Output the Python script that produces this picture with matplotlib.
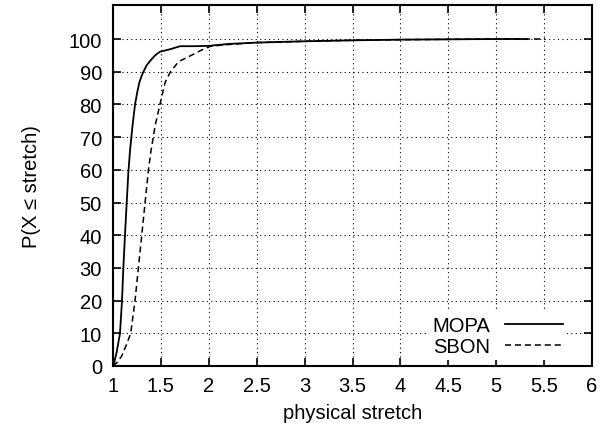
import numpy as np
import matplotlib
matplotlib.use('Agg')
import matplotlib.pyplot as plt

# CDF of physical stretch (percent of paths with stretch <= x)
mopa_x = [1.0, 1.01, 1.02, 1.04, 1.073, 1.094, 1.108, 1.125, 1.143, 1.16, 1.178, 1.20, 1.23, 1.255,
          1.276, 1.30, 1.318, 1.35, 1.39, 1.44, 1.49, 1.60, 1.70, 1.85, 2.0, 2.21, 2.5, 3.0, 3.5,
          4.0, 4.5, 5.0, 5.32]
mopa_y = [0.0, 0.6, 2.0, 4.5, 10.0, 20.0, 30.0, 40.0, 50.0, 59.0, 66.0, 72.5, 80.0, 84.0,
          86.8, 88.8, 90.0, 91.9, 93.4, 95.0, 96.1, 96.9, 97.8, 97.8, 97.9, 98.5, 98.9, 99.3, 99.6,
          99.8, 99.9, 100.0, 100.0]
sbon_x = [1.0, 1.04, 1.09, 1.143, 1.185, 1.23, 1.265, 1.30, 1.335, 1.37, 1.395, 1.44, 1.49,
          1.545, 1.60, 1.685, 1.81, 1.93, 2.02, 2.2, 2.5, 3.0, 3.5, 4.0, 4.5, 5.0, 5.51]
sbon_y = [0.0, 1.0, 3.0, 6.7, 10.0, 20.0, 30.0, 40.0, 50.0, 60.0, 65.5, 73.5, 80.0,
          86.8, 90.0, 93.1, 94.9, 96.7, 97.8, 98.3, 98.9, 99.3, 99.6, 99.8, 99.9, 100.0, 100.0]

xticks = [1, 1.5, 2, 2.5, 3, 3.5, 4, 4.5, 5, 5.5, 6]
xticklabels = ['1', '1.5', '2', '2.5', '3', '3.5', '4', '4.5', '5', '5.5', '6']
yticks = [0, 10, 20, 30, 40, 50, 60, 70, 80, 90, 100]

plt.rcParams['font.family'] = ['Liberation Sans', 'DejaVu Sans']
plt.rcParams['font.size'] = 14.5

fig = plt.figure(figsize=(6, 4.35), dpi=100)
ax = fig.add_axes([113 / 600, 1 - 367 / 435, 479 / 600, 361 / 435])

ax.plot(mopa_x, mopa_y, color='black', lw=1.3, label='MOPA')
ax.plot(sbon_x, sbon_y, color='black', lw=1.1, dashes=(4, 2.5), label='SBON')

ax.set_xlim(1, 6)
ax.set_ylim(0, 110.4)
ax.set_xticks(xticks)
ax.set_xticklabels(xticklabels)
ax.set_yticks(yticks)
ax.grid(True, color='black', linestyle=(0, (1, 3)), linewidth=0.8)
ax.tick_params(direction='in', length=6, width=1.2, top=True, right=True)
ax.tick_params(axis='x', pad=7)
ax.tick_params(axis='y', pad=8)
for sp in ax.spines.values():
    sp.set_linewidth(1.5)

ax.set_xlabel('physical stretch', labelpad=6)
ax.set_ylabel('P(X \u2264 stretch)', labelpad=20)

leg = ax.legend(loc='lower right', bbox_to_anchor=(0.948, 0.017), markerfirst=False,
                handlelength=2.9, frameon=True, fancybox=False, edgecolor='white',
                framealpha=1.0, borderpad=0.2, labelspacing=0.1, handletextpad=0.7,
                borderaxespad=0)
leg.get_frame().set_linewidth(0)

fig.savefig('out.png', dpi=100)
